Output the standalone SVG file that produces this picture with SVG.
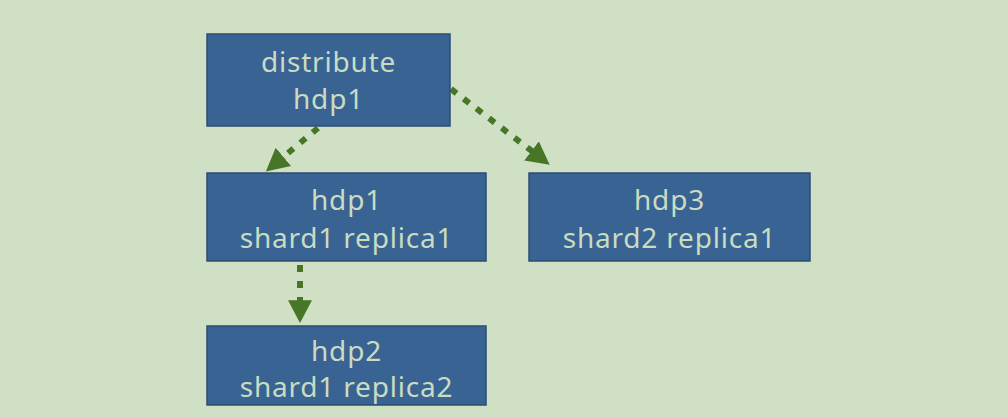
<svg xmlns="http://www.w3.org/2000/svg" width="1008" height="417" viewBox="0 0 1008 417">
<style>
.box{fill:#386393;stroke:#2b4c74;stroke-width:1.5}
.t{font-family:"Noto Sans","Open Sans",sans-serif;font-size:28px;letter-spacing:0.8px;fill:#c9dcc2;text-anchor:middle}
.c{stroke:#467626;stroke-width:6;stroke-dasharray:7 9;fill:none}
</style>
<defs>
<marker id="ah" markerWidth="3.8" markerHeight="4" refX="0.3" refY="2" orient="auto" markerUnits="strokeWidth" viewBox="0 0 3.8 4">
<path d="M0,0 L3.8,2 L0,4 Z" fill="#467626"/>
</marker>
</defs>
<rect width="1008" height="417" fill="#cfe0c4"/>
<g id="connectors">
<path class="c" d="M318,128 L282,158" marker-end="url(#ah)"/>
<path class="c" d="M451,89 L533,152" marker-end="url(#ah)"/>
<path class="c" d="M300,265 L300,302" marker-end="url(#ah)"/>
</g>
<g id="n1"><rect class="box" x="207" y="34" width="243" height="92"/><text class="t" x="328.5" y="72">distribute</text><text class="t" x="328.5" y="109">hdp1</text></g>
<g id="n2"><rect class="box" x="207" y="173" width="279" height="88"/><text class="t" x="346.5" y="210">hdp1</text><text class="t" x="346.5" y="248">shard1 replica1</text></g>
<g id="n3"><rect class="box" x="529" y="173" width="281" height="88"/><text class="t" x="669.5" y="210">hdp3</text><text class="t" x="669.5" y="248">shard2 replica1</text></g>
<g id="n4"><rect class="box" x="207" y="326" width="279" height="79"/><text class="t" x="346.5" y="361">hdp2</text><text class="t" x="346.5" y="397">shard1 replica2</text></g>
</svg>
